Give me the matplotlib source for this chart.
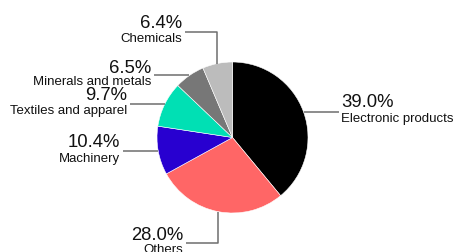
import numpy as np
import matplotlib.pyplot as plt

# data (clockwise from 12 o'clock)
categories = ['Electronic products', 'Others', 'Machinery',
              'Textiles and apparel', 'Minerals and metals', 'Chemicals']
shares = [39.0, 28.0, 10.4, 9.7, 6.5, 6.4]
colors = ['#000000', '#ff6666', '#2800d0', '#00e0b4', '#777777', '#bcbcbc']

W, H = 458, 252
plt.rcParams['font.family'] = ['Liberation Sans', 'DejaVu Sans']

fig = plt.figure(figsize=(W / 100, H / 100), dpi=100)
ax = fig.add_axes([0, 0, 1, 1])

cx, cy, r = 232.5, H - 137.5, 75.5
wedges, _ = ax.pie(shares, colors=colors, startangle=90, counterclock=False,
                   center=(cx, cy), radius=r,
                   wedgeprops=dict(edgecolor='white', linewidth=0.4))
ax.set_xlim(0, W)
ax.set_ylim(0, H)
ax.set_aspect('equal')
ax.axis('off')

# label layout in pixel coords (y from top): text x, pct baseline, name baseline, align, elbow y
layout = {
    'Electronic products': (341, 107, 122, 'left', None),
    'Others': (183, 240, 253, 'right', 243),
    'Machinery': (120, 147, 162, 'right', None),
    'Textiles and apparel': (127, 100, 114, 'right', None),
    'Minerals and metals': (151, 73, 85, 'right', None),
    'Chemicals': (182, 28, 42, 'right', 32),
}
line_col = '#6e6e6e'

for w, name, val in zip(wedges, categories, shares):
    mid = np.deg2rad((w.theta1 + w.theta2) / 2)
    ax_x = cx + r * np.cos(mid)
    ax_y = cy + r * np.sin(mid)
    tx, pb, nb, ha, elbow = layout[name]
    gap = 3 if ha == 'right' else -2
    if elbow is None:
        ax.plot([ax_x, tx + gap], [ax_y, ax_y], color=line_col, lw=1.1,
                solid_capstyle='butt')
    else:
        ey = H - elbow
        ax.plot([ax_x, ax_x, tx + gap], [ax_y, ey, ey], color=line_col, lw=1.1,
                solid_capstyle='butt')
    ax.text(tx, H - pb, f'{val:.1f}%', ha=ha, va='baseline', fontsize=13.3,
            color='#111111')
    ax.text(tx, H - nb, name, ha=ha, va='baseline', fontsize=9.5,
            color='#111111')

fig.savefig('out.png', dpi=100)
